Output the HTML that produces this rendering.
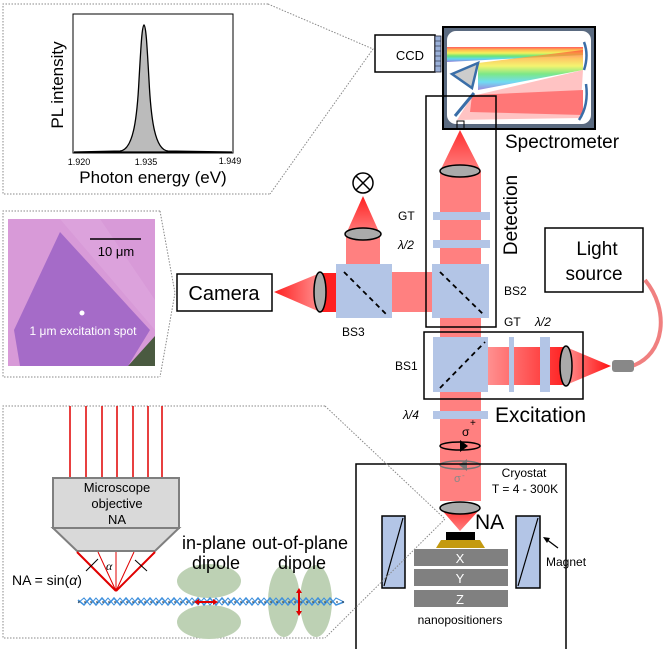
<!DOCTYPE html>
<html><head><meta charset="utf-8"><style>
html,body{margin:0;padding:0;background:#fff}
svg{display:block;font-family:"Liberation Sans",sans-serif}
</style></head><body>
<svg width="665" height="649" viewBox="0 0 665 649" xmlns="http://www.w3.org/2000/svg">
<defs>
<linearGradient id="rain" x1="0" y1="0" x2="0" y2="1">
<stop offset="0" stop-color="#ff4040"/><stop offset=".2" stop-color="#ffb030"/><stop offset=".4" stop-color="#f0f040"/><stop offset=".6" stop-color="#50e060"/><stop offset=".8" stop-color="#40d0f0"/><stop offset="1" stop-color="#8060d0"/>
</linearGradient>
<linearGradient id="cone" x1="0" y1="0" x2="0" y2="1"><stop offset="0" stop-color="#ff3030"/><stop offset="1" stop-color="#ff8080"/></linearGradient>
<linearGradient id="coneup" x1="0" y1="1" x2="0" y2="0"><stop offset="0" stop-color="#ff8080"/><stop offset="1" stop-color="#ff2020"/></linearGradient>
<linearGradient id="coneL" x1="1" y1="0" x2="0" y2="0"><stop offset="0" stop-color="#ff9090"/><stop offset="1" stop-color="#ff1010"/></linearGradient>
<linearGradient id="coneR" x1="0" y1="0" x2="1" y2="0"><stop offset="0" stop-color="#ff9090"/><stop offset="1" stop-color="#ff1010"/></linearGradient>
<linearGradient id="exH" x1="0" y1="0" x2="1" y2="0"><stop offset="0" stop-color="#ff9090"/><stop offset="1" stop-color="#ff2020"/></linearGradient>
<linearGradient id="camH" x1="1" y1="0" x2="0" y2="0"><stop offset="0" stop-color="#ff9090"/><stop offset="1" stop-color="#ff2020"/></linearGradient>
<linearGradient id="micro" x1="0" y1="0" x2="1" y2="1"><stop offset="0" stop-color="#c88ad8"/><stop offset=".5" stop-color="#b070d0"/><stop offset="1" stop-color="#d496d4"/></linearGradient>
</defs>

<!-- top panel -->
<polyline points="268,4 3,4 3,194 270,194" fill="none" stroke="#888" stroke-dasharray="1.5,1.5"/>
<polyline points="268,4 373,49 270,194" fill="none" stroke="#888" stroke-dasharray="1.5,1.5"/>
<rect x="73" y="14" width="160" height="139" fill="#fff" stroke="#000" stroke-width="1"/>
<path d="M74,152 L120,151 C133,150 137,120 139,80 C141,45 142,26 144,25 C146,26 147,45 149,80 C151,120 155,150 168,151 L232,152 Z" fill="#bbb" stroke="#000" stroke-width="1.3"/>
<g font-size="9" text-anchor="middle"><text x="79" y="165">1.920</text><text x="146" y="165">1.935</text><text x="230" y="164">1.949</text></g>
<text x="153" y="183" font-size="17" text-anchor="middle">Photon energy (eV)</text>
<text transform="translate(63,85) rotate(-90)" font-size="17" text-anchor="middle">PL intensity</text>

<!-- CCD -->
<rect x="375" y="35" width="60" height="37" fill="#fff" stroke="#000" stroke-width="1.5"/>
<text x="410" y="60" font-size="13" text-anchor="middle">CCD</text>
<rect x="435" y="36" width="6" height="36" fill="#9ab0d8" stroke="#223" stroke-width=".8"/>
<g stroke="#223" stroke-width=".6"><line x1="435" y1="41" x2="441" y2="41"/><line x1="435" y1="46" x2="441" y2="46"/><line x1="435" y1="51" x2="441" y2="51"/><line x1="435" y1="56" x2="441" y2="56"/><line x1="435" y1="61" x2="441" y2="61"/><line x1="435" y1="66" x2="441" y2="66"/></g>

<!-- spectrometer -->
<rect x="443" y="27" width="152" height="102" fill="#5a6a80" stroke="#000" stroke-width="2"/>
<rect x="447" y="31" width="144" height="93" rx="9" fill="#fff"/>
<polygon points="447,47 583,47 583,55 447,62" fill="url(#rain)" opacity=".85"/>
<polygon points="478,63 583,50 583,70 478,90" fill="url(#rain)" opacity=".75"/>
<polygon points="472,95 583,90 583,115 470,112" fill="#ff3a3a" opacity=".7"/>
<polygon points="457,120 472,96 583,70 580,118" fill="#ff7a7a" opacity=".45"/>
<polygon points="452,74 478,63 472,88" fill="#ccc" stroke="#3a6ea8" stroke-width="2.5"/>
<path d="M455,116 L474,93" stroke="#3a6ea8" stroke-width="3"/>
<path d="M584,42 Q589,55 584,70" stroke="#3a6ea8" stroke-width="2.5" fill="none"/>
<path d="M586,84 Q589,105 579,120" stroke="#3a6ea8" stroke-width="2.5" fill="none"/>
<rect x="457" y="121" width="7" height="8" fill="none" stroke="#000"/>
<text x="505" y="148" font-size="19">Spectrometer</text>

<!-- detection beam -->
<polygon points="460,130 440,171 481,171" fill="url(#cone)"/>
<rect x="440" y="171" width="41" height="330" fill="#ff8080"/>
<ellipse cx="460" cy="171" rx="20" ry="6" fill="#aaa" stroke="#000" stroke-width="1.5"/>
<rect x="433" y="212" width="57" height="8" fill="#b3c5e6"/>
<rect x="433" y="240" width="57" height="8" fill="#b3c5e6"/>
<text x="398" y="220" font-size="12">GT</text>
<text x="398" y="249" font-size="12" font-style="italic">λ/2</text>

<!-- BS3 upward -->
<polygon points="363,196 346,234 380,234" fill="url(#coneup)"/>
<rect x="346" y="234" width="34" height="32" fill="#ff8080"/>
<ellipse cx="363" cy="234" rx="18" ry="6" fill="#aaa" stroke="#000" stroke-width="1.5"/>
<circle cx="363" cy="183" r="10" fill="#fff" stroke="#000" stroke-width="1.5"/>
<path d="M356,176 L370,190 M370,176 L356,190" stroke="#000" stroke-width="1.5"/>

<!-- horizontal beam BS3-BS2 -->
<rect x="392" y="272" width="41" height="40" fill="#ff8080"/>
<!-- camera beam -->
<rect x="320" y="273" width="16" height="39" fill="#ff2020"/>
<polygon points="274,292 320,273 320,312" fill="url(#camH)"/>
<ellipse cx="320" cy="292" rx="6" ry="20" fill="#aaa" stroke="#000" stroke-width="1.5"/>
<rect x="177" y="274" width="95" height="37" fill="#fff" stroke="#000" stroke-width="1.5"/>
<text x="224" y="300" font-size="20" text-anchor="middle">Camera</text>

<!-- cubes -->
<rect x="336" y="264" width="56" height="54" fill="#b3c5e6"/>
<line x1="344" y1="272" x2="388" y2="316" stroke="#000" stroke-width="1.8" stroke-dasharray="5,4"/>
<text x="342" y="336" font-size="12">BS3</text>
<rect x="432" y="264" width="57" height="54" fill="#b3c5e6"/>
<line x1="440" y1="272" x2="485" y2="316" stroke="#000" stroke-width="1.8" stroke-dasharray="5,4"/>
<text x="504" y="295" font-size="12">BS2</text>
<text x="504" y="326" font-size="12">GT</text>
<text x="535" y="326" font-size="12" font-style="italic">λ/2</text>

<rect x="426" y="96" width="70" height="231" fill="none" stroke="#000" stroke-width="1.5"/>
<text transform="translate(517,215) rotate(-90)" font-size="19" text-anchor="middle">Detection</text>

<!-- light source -->
<rect x="545" y="228" width="98" height="64" fill="#fff" stroke="#000" stroke-width="1.5"/>
<text x="597" y="255" font-size="19" text-anchor="middle">Light</text>
<text x="594" y="280" font-size="19" text-anchor="middle">source</text>
<path d="M645,280 C670,310 665,355 632,366" fill="none" stroke="#f08080" stroke-width="4"/>

<!-- excitation -->
<rect x="488" y="347" width="78" height="38" fill="url(#exH)"/>
<rect x="509" y="337" width="5" height="55" fill="#b3c5e6"/>
<rect x="540" y="337" width="10" height="55" fill="#b3c5e6"/>
<polygon points="611,366 566,347 566,385" fill="url(#coneR)"/>
<ellipse cx="566" cy="366" rx="6" ry="20" fill="#aaa" stroke="#000" stroke-width="1.5"/>
<rect x="612" y="360" width="22" height="12" rx="3" fill="#888"/>
<rect x="433" y="337" width="55" height="55" fill="#b3c5e6"/>
<line x1="440" y1="388" x2="485" y2="342" stroke="#000" stroke-width="1.8" stroke-dasharray="5,4"/>
<text x="395" y="370" font-size="12">BS1</text>
<rect x="424" y="332" width="159" height="67" fill="none" stroke="#000" stroke-width="1.5"/>
<rect x="433" y="411" width="55" height="8" fill="#b3c5e6"/>
<text x="403" y="419" font-size="12" font-style="italic">λ/4</text>
<text x="495" y="422" font-size="21">Excitation</text>

<!-- sigma -->
<text x="462" y="436" font-size="12">σ</text><text x="470" y="426" font-size="10">+</text>
<ellipse cx="460" cy="446" rx="20" ry="4" fill="none" stroke="#000" stroke-width="1.5"/>
<polygon points="460,440 468,446 460,452" fill="#000"/>
<ellipse cx="460" cy="465" rx="20" ry="4" fill="none" stroke="#777" stroke-width="1.5"/>
<polygon points="467,459 459,465 467,471" fill="#777"/>
<text x="454" y="482" font-size="11" fill="#888">σ</text><text x="462" y="478" font-size="8" fill="#888">-</text>

<!-- cryostat -->
<rect x="356" y="464" width="210" height="186" fill="none" stroke="#000" stroke-width="1.5"/>
<text x="524" y="477" font-size="12" text-anchor="middle">Cryostat</text>
<text x="525" y="493" font-size="12" text-anchor="middle">T = 4 - 300K</text>
<polygon points="460,531 440,508 481,508" fill="url(#cone)"/>
<ellipse cx="460" cy="508" rx="20" ry="6" fill="#aaa" stroke="#000" stroke-width="1.5"/>
<text x="475" y="529" font-size="21">NA</text>
<rect x="446" y="532" width="29" height="9" fill="#000"/>
<polygon points="436,548 441,540 480,540 485,548" fill="#c49a10"/>
<rect x="414" y="549" width="94" height="17" fill="#808080"/>
<rect x="414" y="569" width="94" height="17" fill="#808080"/>
<rect x="414" y="590" width="94" height="17" fill="#808080"/>
<g fill="#fff" font-size="13" text-anchor="middle"><text x="460" y="563">X</text><text x="460" y="583">Y</text><text x="460" y="604">Z</text></g>
<text x="460" y="624" font-size="12" text-anchor="middle">nanopositioners</text>
<rect x="382" y="516" width="23" height="72" fill="#b3c5e6" stroke="#000" stroke-width="1.5"/>
<line x1="384" y1="586" x2="403" y2="518" stroke="#000" stroke-width="1.2"/>
<rect x="516" y="516" width="24" height="72" fill="#b3c5e6" stroke="#000" stroke-width="1.5"/>
<line x1="518" y1="586" x2="538" y2="518" stroke="#000" stroke-width="1.2"/>
<text x="546" y="566" font-size="12">Magnet</text>
<line x1="558" y1="548" x2="546" y2="539" stroke="#000" stroke-width="1.3"/>
<polygon points="543,537 550,538 547,543" fill="#000"/>

<!-- micrograph panel -->
<polyline points="160,211 3,211 3,377 160,377" fill="none" stroke="#888" stroke-dasharray="1.5,1.5"/>
<polyline points="160,211 175,293 160,377" fill="none" stroke="#888" stroke-dasharray="1.5,1.5"/>
<rect x="8" y="219" width="147" height="147" fill="#d89ad8"/>
<polygon points="60,232 150,330 128,366 20,366 14,330" fill="#a56bc8"/>
<polygon points="60,219 100,219 155,300 155,330" fill="#e0a8e0" opacity=".6"/>
<polygon points="128,366 155,336 155,366" fill="#4a5a40"/>
<line x1="90" y1="239" x2="141" y2="239" stroke="#000" stroke-width="1.5"/>
<text x="116" y="256" font-size="13" text-anchor="middle">10 μm</text>
<circle cx="82" cy="313" r="2.5" fill="#fff"/>
<text x="83" y="335" font-size="12" fill="#fff" text-anchor="middle">1 μm excitation  spot</text>

<!-- bottom panel -->
<polyline points="325,406 3,406 3,638 325,638" fill="none" stroke="#888" stroke-dasharray="1.5,1.5"/>
<polyline points="325,406 445,519 325,638" fill="none" stroke="#888" stroke-dasharray="1.5,1.5"/>
<g stroke="#e00000" stroke-width="1.5"><line x1="70" y1="406" x2="70" y2="478"/><line x1="86" y1="406" x2="86" y2="478"/><line x1="102" y1="406" x2="102" y2="478"/><line x1="117" y1="406" x2="117" y2="478"/><line x1="133" y1="406" x2="133" y2="478"/><line x1="148" y1="406" x2="148" y2="478"/><line x1="162" y1="406" x2="162" y2="478"/></g>
<rect x="53" y="478" width="126" height="50" fill="#d9d9d9" stroke="#7f7f7f" stroke-width="2"/>
<polygon points="53,528 179,528 155,551 77,551" fill="#d9d9d9" stroke="#7f7f7f" stroke-width="2"/>
<g font-size="13" text-anchor="middle"><text x="117" y="492">Microscope</text><text x="117" y="508">objective</text><text x="117" y="524">NA</text></g>
<g stroke="#e00000"><line x1="77" y1="552" x2="116" y2="591" stroke-width="2"/><line x1="155" y1="552" x2="116" y2="591" stroke-width="2"/><line x1="98" y1="552" x2="116" y2="591"/><line x1="116" y1="552" x2="116" y2="591"/><line x1="134" y1="552" x2="116" y2="591"/></g>
<path d="M86,571 L98,559 M135,560 L147,571" stroke="#000" stroke-width="1"/>
<text x="106" y="570" font-size="12" font-style="italic" font-family="Liberation Serif,serif">α</text>
<text x="12" y="585" font-size="14">NA = sin(<tspan font-style="italic">α</tspan>)</text>
<g fill="#bdd1b4">
<ellipse cx="209" cy="581" rx="32" ry="17"/><ellipse cx="209" cy="622" rx="32" ry="17"/>
<ellipse cx="284" cy="601" rx="16" ry="36"/><ellipse cx="316" cy="601" rx="16" ry="36"/>
</g>
<path d="M78,600 L84,605 L90,598 L96,605 L102,598 L108,605 L114,598 L120,605 L126,598 L132,605 L138,598 L144,605 L150,598 L156,605 L162,598 L168,605 L174,598 L180,605 L186,598 L192,605 L198,598 L204,605 L210,598 L216,605 L222,598 L228,605 L234,598 L240,605 L246,598 L252,605 L258,598 L264,605 L270,598 L276,605 L282,598 L288,605 L294,598 L300,605 L306,598 L312,605 L318,598 L324,605 L330,598 L336,605 L344,602" fill="none" stroke="#3d8fdc" stroke-width="1.5"/>
<path d="M78,603 L84,598 L90,605 L96,598 L102,605 L108,598 L114,605 L120,598 L126,605 L132,598 L138,605 L144,598 L150,605 L156,598 L162,605 L168,598 L174,605 L180,598 L186,605 L192,598 L198,605 L204,598 L210,605 L216,598 L222,605 L228,598 L234,605 L240,598 L246,605 L252,598 L258,605 L264,598 L270,605 L276,598 L282,605 L288,598 L294,605 L300,598 L306,605 L312,598 L318,605 L324,598 L330,605 L336,598 L344,602" fill="none" stroke="#3d8fdc" stroke-width="1"/>
<line x1="78" y1="602" x2="345" y2="602" stroke="#333" stroke-width="1" stroke-dasharray="2,4"/>
<g stroke="#e00000" stroke-width="2"><line x1="197" y1="602" x2="215" y2="602"/><line x1="299" y1="591" x2="299" y2="613"/></g>
<polygon points="194,602 199,599 199,605" fill="#e00000"/><polygon points="218,602 213,599 213,605" fill="#e00000"/>
<polygon points="299,588 296,593 302,593" fill="#e00000"/><polygon points="299,616 296,611 302,611" fill="#e00000"/>
<g font-size="18" text-anchor="middle"><text x="214" y="549">in-plane</text><text x="216" y="569">dipole</text><text x="300" y="549">out-of-plane</text><text x="302" y="569">dipole</text></g>
</svg>
</body></html>
